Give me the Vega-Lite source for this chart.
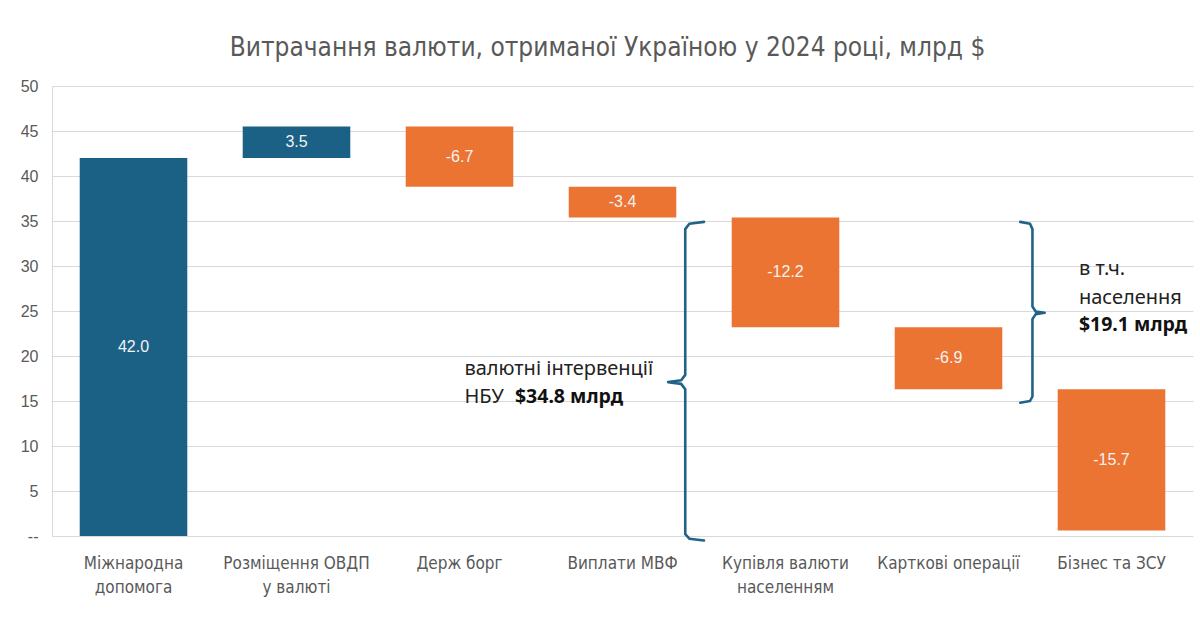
{
  "$schema": "https://vega.github.io/schema/vega-lite/v6.json",
  "autosize": "none",
  "width": 1141,
  "height": 450,
  "padding": {"left": 52, "top": 86, "right": 7, "bottom": 100},
  "background": "white",
  "title": {
    "text": "Витрачання валюти, отриманої Україною у 2024 році, млрд $",
    "font": "Liberation Sans Narrow, DejaVu Sans Condensed, Roboto Condensed, sans-serif",
    "fontSize": 26,
    "fontWeight": "normal",
    "color": "#595959",
    "anchor": "middle",
    "dx": -15,
    "offset": 17
  },
  "config": {
    "view": {"stroke": null},
    "axis": {"labelFont": "Liberation Sans, Arial, sans-serif"}
  },
  "datasets": {
    "bars": [
      {"category": "Міжнародна\nдопомога", "start": 0, "end": 42.0, "label": "42.0", "kind": "in"},
      {"category": "Розміщення ОВДП\nу валюті", "start": 42.0, "end": 45.5, "label": "3.5", "kind": "in"},
      {"category": "Держ борг", "start": 45.5, "end": 38.8, "label": "-6.7", "kind": "out"},
      {"category": "Виплати МВФ", "start": 38.8, "end": 35.4, "label": "-3.4", "kind": "out"},
      {"category": "Купівля валюти\nнаселенням", "start": 35.4, "end": 23.2, "label": "-12.2", "kind": "out"},
      {"category": "Карткові операції", "start": 23.2, "end": 16.3, "label": "-6.9", "kind": "out"},
      {"category": "Бізнес та ЗСУ", "start": 16.3, "end": 0.6, "label": "-15.7", "kind": "out"}
    ],
    "braces": [
      {"brace": "nbu", "seq": 1, "bx": 4.0, "by": 34.9},
      {"brace": "nbu", "seq": 2, "bx": 3.91, "by": 34.7},
      {"brace": "nbu", "seq": 3, "bx": 3.885, "by": 34.1},
      {"brace": "nbu", "seq": 4, "bx": 3.885, "by": 17.9},
      {"brace": "nbu", "seq": 5, "bx": 3.86, "by": 17.3},
      {"brace": "nbu", "seq": 6, "bx": 3.78, "by": 17.1},
      {"brace": "nbu", "seq": 7, "bx": 3.86, "by": 16.9},
      {"brace": "nbu", "seq": 8, "bx": 3.885, "by": 16.3},
      {"brace": "nbu", "seq": 9, "bx": 3.885, "by": 0.2},
      {"brace": "nbu", "seq": 10, "bx": 3.91, "by": -0.3},
      {"brace": "nbu", "seq": 11, "bx": 4.0, "by": -0.5},
      {"brace": "pop", "seq": 1, "bx": 5.94, "by": 34.9},
      {"brace": "pop", "seq": 2, "bx": 6.0, "by": 34.7},
      {"brace": "pop", "seq": 3, "bx": 6.015, "by": 34.1},
      {"brace": "pop", "seq": 4, "bx": 6.015, "by": 25.5},
      {"brace": "pop", "seq": 5, "bx": 6.035, "by": 24.95},
      {"brace": "pop", "seq": 6, "bx": 6.09, "by": 24.8},
      {"brace": "pop", "seq": 7, "bx": 6.035, "by": 24.65},
      {"brace": "pop", "seq": 8, "bx": 6.015, "by": 24.1},
      {"brace": "pop", "seq": 9, "bx": 6.015, "by": 15.5},
      {"brace": "pop", "seq": 10, "bx": 6.0, "by": 15.0},
      {"brace": "pop", "seq": 11, "bx": 5.94, "by": 14.8}
    ],
    "notes": [
      {"tx": 2.53, "ty": 18.6, "text": "валютні інтервенції"},
      {"tx": 2.53, "ty": 15.4, "text": "НБУ"},
      {"tx": 6.30, "ty": 29.7, "text": "в т.ч."},
      {"tx": 6.30, "ty": 26.5, "text": "населення"}
    ],
    "notesBold": [
      {"tx": 2.84, "ty": 15.4, "text": "$34.8 млрд"},
      {"tx": 6.30, "ty": 23.4, "text": "$19.1 млрд"}
    ]
  },
  "layer": [
    {
      "data": {"name": "bars"},
      "mark": {"type": "bar"},
      "encoding": {
        "x": {
          "field": "category", "type": "nominal", "sort": null,
          "scale": {"paddingInner": 0.34, "paddingOuter": 0.17},
          "axis": {
            "title": null, "labelAngle": 0, "domain": false, "ticks": false,
            "labelPadding": 19, "labelFontSize": 17, "labelColor": "#595959",
            "labelFont": "Liberation Sans Narrow, DejaVu Sans Condensed, Roboto Condensed, sans-serif",
            "labelLineHeight": 24, "labelBaseline": "top",
            "labelExpr": "split(datum.label, '\\n')"
          }
        },
        "y": {
          "field": "start", "type": "quantitative",
          "scale": {"domain": [0, 50], "nice": false},
          "axis": {
            "title": null, "values": [0, 5, 10, 15, 20, 25, 30, 35, 40, 45, 50],
            "labelExpr": "datum.value == 0 ? '--' : datum.label",
            "ticks": false, "labelPadding": 14, "labelFontSize": 16, "labelColor": "#595959",
            "domain": true, "domainColor": "#d9d9d9",
            "gridColor": "#d9d9d9", "gridWidth": 1.2
          }
        },
        "y2": {"field": "end"},
        "color": {
          "field": "kind", "type": "nominal",
          "scale": {"domain": ["in", "out"], "range": ["#1b6186", "#ec7433"]},
          "legend": null
        }
      }
    },
    {
      "data": {"name": "bars"},
      "transform": [{"calculate": "(datum.start + datum.end) / 2", "as": "mid"}],
      "mark": {"type": "text", "color": "#f2f2f2", "fontSize": 16, "font": "Liberation Sans, Arial, sans-serif", "baseline": "middle"},
      "encoding": {
        "x": {"field": "category", "type": "nominal", "sort": null, "axis": null},
        "y": {"field": "mid", "type": "quantitative"},
        "text": {"field": "label"}
      }
    },
    {
      "data": {"name": "braces"},
      "mark": {"type": "line", "color": "#1f6488", "strokeWidth": 2.6, "strokeCap": "round", "strokeJoin": "round"},
      "encoding": {
        "x": {"field": "bx", "type": "quantitative", "scale": {"domain": [0, 7], "nice": false, "zero": false}, "axis": null},
        "y": {"field": "by", "type": "quantitative"},
        "detail": {"field": "brace"},
        "order": {"field": "seq"}
      }
    },
    {
      "data": {"name": "notes"},
      "mark": {"type": "text", "align": "left", "baseline": "middle", "fontSize": 20, "font": "Noto Sans, Open Sans, sans-serif", "color": "#222222"},
      "encoding": {
        "x": {"field": "tx", "type": "quantitative", "scale": {"domain": [0, 7], "nice": false, "zero": false}, "axis": null},
        "y": {"field": "ty", "type": "quantitative"},
        "text": {"field": "text"}
      }
    },
    {
      "data": {"name": "notesBold"},
      "mark": {"type": "text", "align": "left", "baseline": "middle", "fontSize": 19.5, "fontWeight": "bold", "font": "Noto Sans, Open Sans, sans-serif", "color": "#111111"},
      "encoding": {
        "x": {"field": "tx", "type": "quantitative", "scale": {"domain": [0, 7], "nice": false, "zero": false}, "axis": null},
        "y": {"field": "ty", "type": "quantitative"},
        "text": {"field": "text"}
      }
    }
  ],
  "resolve": {"scale": {"x": "independent"}, "axis": {"x": "independent"}}
}
